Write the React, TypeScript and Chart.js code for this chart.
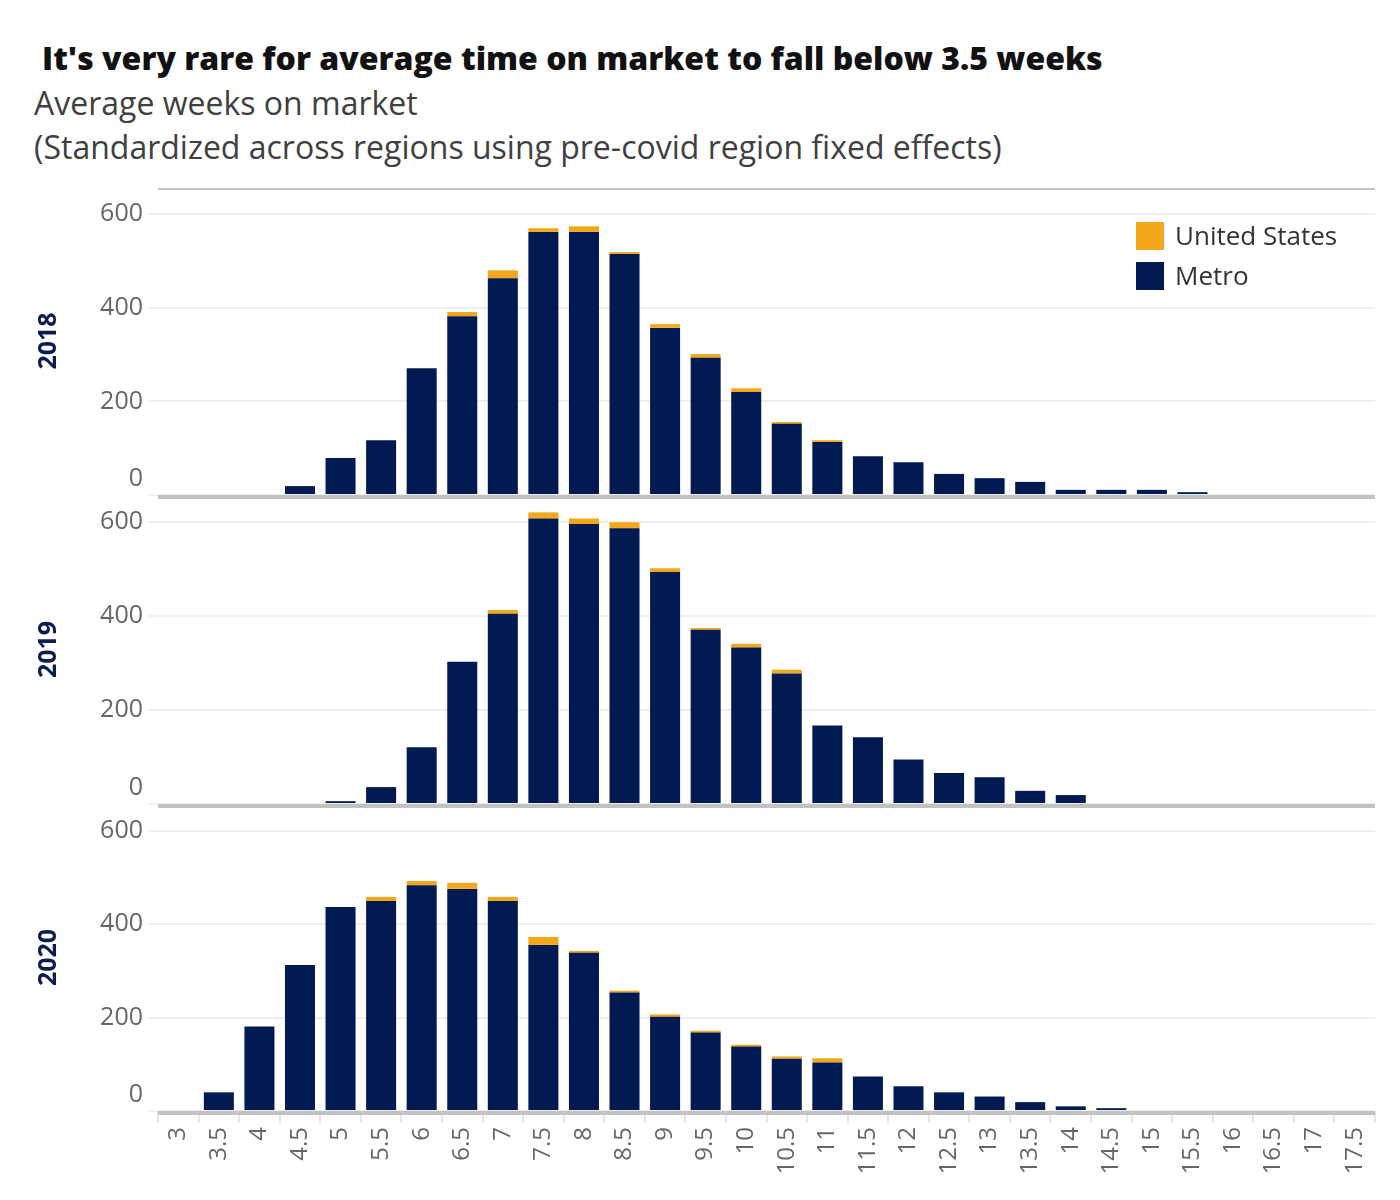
import React, { useEffect, useRef } from "react";
import { Chart, registerables } from "chart.js";

Chart.register(...registerables);

const categories = [
  "3", "3.5", "4", "4.5", "5", "5.5", "6", "6.5", "7", "7.5",
  "8", "8.5", "9", "9.5", "10", "10.5", "11", "11.5", "12", "12.5",
  "13", "13.5", "14", "14.5", "15", "15.5", "16", "16.5", "17", "17.5",
];

const metro2018 = [0, 0, 0, 19, 79, 117, 271, 382, 463, 562, 562, 515, 357, 293, 220, 152, 113, 83, 70, 45, 36, 28, 11, 11, 11, 6, 0, 0, 0, 0];
const us2018 = [0, 0, 0, 0, 0, 0, 0, 9, 17, 8, 12, 4, 8, 8, 8, 4, 4, 0, 0, 0, 0, 0, 0, 0, 0, 0, 0, 0, 0, 0];

const metro2019 = [0, 0, 0, 0, 6, 36, 121, 303, 405, 608, 596, 587, 494, 371, 333, 278, 167, 142, 95, 66, 57, 28, 19, 0, 0, 0, 0, 0, 0, 0];
const us2019 = [0, 0, 0, 0, 0, 0, 0, 0, 8, 13, 12, 13, 8, 4, 8, 8, 0, 0, 0, 0, 0, 0, 0, 0, 0, 0, 0, 0, 0, 0];

const metro2020 = [0, 40, 181, 313, 437, 450, 484, 476, 450, 356, 339, 254, 202, 168, 138, 112, 104, 74, 53, 40, 31, 19, 10, 6, 0, 0, 0, 0, 0, 0];
const us2020 = [0, 0, 0, 0, 0, 9, 9, 13, 9, 17, 4, 4, 5, 4, 4, 5, 9, 0, 0, 0, 0, 0, 0, 0, 0, 0, 0, 0, 0, 0];

const yTickValues = [0, 200, 400, 600];
const seriesNames = ["United States", "Metro"];

const NAVY = "#021a52";
const ORANGE = "#f2a71d";
const FONT = '"Open Sans", sans-serif';

type PanelProps = {
  year: string;
  metro: number[];
  us: number[];
  top: number;
  height: number;
  showX: boolean;
  topLine: boolean;
};

function Panel({ year, metro, us, top, height, showX, topLine }: PanelProps) {
  const ref = useRef<HTMLCanvasElement | null>(null);

  useEffect(() => {
    const canvas = ref.current;
    if (!canvas) return;
    const decor = {
      id: "panelDecor",
      afterDatasetsDraw(chart: any) {
        const { ctx, chartArea, scales } = chart;
        const y = scales.y;
        ctx.save();
        ctx.fillStyle = "#c2c2c2";
        const z = y.getPixelForValue(0);
        ctx.fillRect(chartArea.left, z, chartArea.right - chartArea.left, 4);
        if (topLine) {
          ctx.fillRect(chartArea.left, chartArea.top + 1, chartArea.right - chartArea.left, 2);
        }
        ctx.font = `25px ${FONT}`;
        ctx.fillStyle = "#666666";
        ctx.textAlign = "right";
        ctx.textBaseline = "middle";
        yTickValues.forEach((v) => {
          let py = y.getPixelForValue(v);
          if (v === 0) py -= 16;
          ctx.fillText(String(v), 143, py);
        });
        ctx.restore();
      },
    };

    const chart = new Chart(canvas, {
      type: "bar",
      data: {
        labels: categories,
        datasets: [
          {
            label: seriesNames[1],
            data: metro,
            backgroundColor: NAVY,
            borderWidth: 0,
            barPercentage: 0.74,
            categoryPercentage: 1,
          },
          {
            label: seriesNames[0],
            data: us,
            backgroundColor: ORANGE,
            borderWidth: 0,
            barPercentage: 0.74,
            categoryPercentage: 1,
          },
        ],
      },
      options: {
        responsive: false,
        animation: false,
        devicePixelRatio: 1,
        layout: { padding: { left: 0, right: 25, top: 0, bottom: showX ? 0 : 6 } },
        plugins: {
          legend: { display: false },
          tooltip: { enabled: false },
          title: { display: false },
        },
        scales: {
          x: {
            display: showX,
            stacked: true,
            offset: true,
            border: { display: false },
            grid: {
              display: true,
              drawOnChartArea: false,
              drawTicks: true,
              tickLength: 12,
              color: "#e6e6e6",
              lineWidth: 2,
              offset: true,
            },
            ticks: {
              autoSkip: false,
              minRotation: 90,
              maxRotation: 90,
              padding: 4,
              color: "#666666",
              font: { family: FONT, size: 24 },
            },
            afterFit: (scale: any) => {
              scale.height = showX ? 82 : 0;
            },
          },
          y: {
            stacked: true,
            min: 0,
            max: 658,
            border: { display: false },
            grid: {
              color: "#efefef",
              lineWidth: 2,
              drawTicks: true,
              tickLength: 10,
            },
            ticks: {
              display: false,
              stepSize: 200,
              includeBounds: false,
            },
            title: {
              display: true,
              text: year,
              color: "#0c1c4f",
              font: { family: FONT, size: 25, weight: "bold" },
              padding: { top: 34, bottom: 0 },
            },
            afterFit: (scale: any) => {
              scale.width = 158;
            },
          },
        },
      },
      plugins: [decor],
    });
    return () => chart.destroy();
  }, [year, metro, us, showX, topLine]);

  return (
    <canvas
      ref={ref}
      width={1400}
      height={height}
      style={{ position: "absolute", left: 0, top, width: 1400, height }}
    />
  );
}

export default function App() {
  return (
    <div
      style={{
        position: "absolute",
        left: 0,
        top: 0,
        width: 1400,
        height: 1200,
        background: "#ffffff",
        fontFamily: FONT,
      }}
    >
      <div
        style={{
          position: "absolute",
          left: 42,
          top: 42,
          fontSize: 32,
          lineHeight: "32px",
          fontWeight: 800,
          color: "#111111",
          whiteSpace: "nowrap",
        }}
      >
        It's very rare for average time on market to fall below 3.5 weeks
      </div>
      <div
        style={{
          position: "absolute",
          left: 34,
          top: 87,
          fontSize: 32,
          lineHeight: "32px",
          color: "#404040",
          whiteSpace: "nowrap",
        }}
      >
        Average weeks on market
      </div>
      <div
        style={{
          position: "absolute",
          left: 34,
          top: 131,
          fontSize: 32,
          lineHeight: "32px",
          color: "#404040",
          whiteSpace: "nowrap",
        }}
      >
        (Standardized across regions using pre-covid region fixed effects)
      </div>

      <Panel year="2018" metro={metro2018} us={us2018} top={187} height={314} showX={false} topLine={true} />
      <Panel year="2019" metro={metro2019} us={us2019} top={495} height={315} showX={false} topLine={false} />
      <Panel year="2020" metro={metro2020} us={us2020} top={804} height={389} showX={true} topLine={false} />

      <div style={{ position: "absolute", left: 1136, top: 222, width: 28, height: 28, background: ORANGE }} />
      <div
        style={{
          position: "absolute",
          left: 1175,
          top: 222,
          fontSize: 26,
          lineHeight: "26px",
          color: "#333333",
          whiteSpace: "nowrap",
        }}
      >
        {seriesNames[0]}
      </div>
      <div style={{ position: "absolute", left: 1136, top: 262, width: 28, height: 28, background: NAVY }} />
      <div
        style={{
          position: "absolute",
          left: 1175,
          top: 262,
          fontSize: 26,
          lineHeight: "26px",
          color: "#333333",
          whiteSpace: "nowrap",
        }}
      >
        {seriesNames[1]}
      </div>
    </div>
  );
}
